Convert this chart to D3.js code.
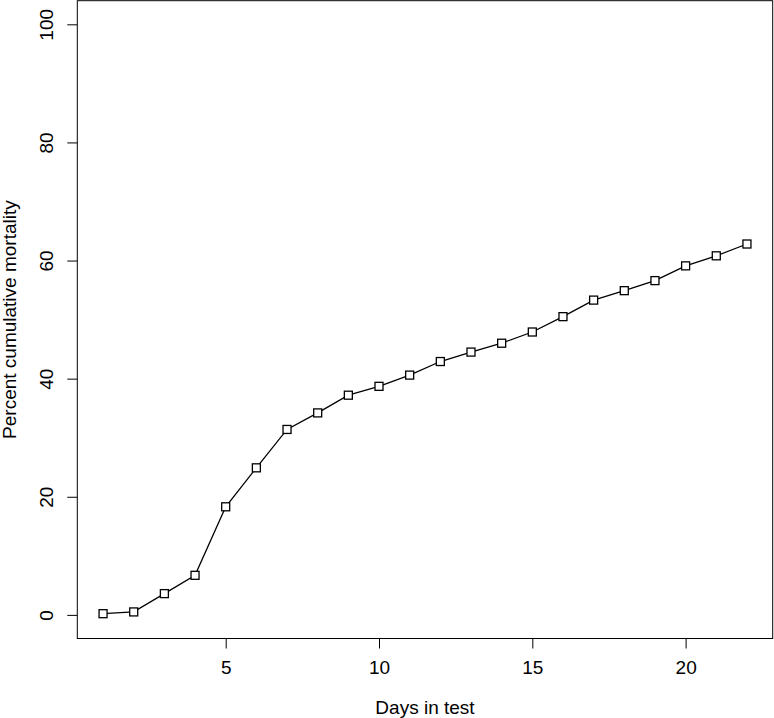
<!DOCTYPE html>
<html>
<head>
<meta charset="utf-8">
<script src="https://cdn.jsdelivr.net/npm/d3@7"></script>
<style>
  body { margin: 0; background: #fff; }
  svg { display: block; }
  text { font-family: "Liberation Sans", Arial, Helvetica, sans-serif; fill: #000; }
</style>
</head>
<body>
<svg id="chart" width="774" height="718"></svg>
<script>
const days = [1,2,3,4,5,6,7,8,9,10,11,12,13,14,15,16,17,18,19,20,21,22];
const mortality = [0.2,0.5,3.6,6.7,18.3,24.9,31.4,34.2,37.2,38.7,40.6,42.9,44.5,46.0,47.9,50.5,53.3,54.9,56.6,59.1,60.8,62.8];
const xTicks = [5,10,15,20];
const yTicks = [0,20,40,60,80,100];
const xTitle = "Days in test";
const yTitle = "Percent cumulative mortality";

(function () {
const svg = d3.select("#chart");
const pL = 77.3, pR = 772.7, pT = 0.7, pB = 638.5;
const fs = "19px";

const x = d3.scaleLinear().domain([0.16, 22.84]).range([pL, pR]);
const y = d3.scaleLinear().domain([-4, 104]).range([pB, pT]);

// box
svg.append("rect")
  .attr("x", pL).attr("y", pT)
  .attr("width", pR - pL).attr("height", pB - pT)
  .attr("fill", "none").attr("stroke", "#000").attr("stroke-width", 1);

// x axis
const xAxis = d3.axisBottom(x).tickValues(xTicks).tickSize(10).tickPadding(12).tickSizeOuter(0);
const gx = svg.append("g").attr("transform", `translate(0,${pB})`).call(xAxis);
gx.select(".domain").remove();
gx.selectAll("line").attr("stroke", "#000");
gx.selectAll("text")
  .style("font-size", fs)
  .attr("y", 28.5).attr("dy", null)
  .attr("dominant-baseline", "central");

// y axis
const yAxis = d3.axisLeft(y).tickValues(yTicks).tickSize(10).tickSizeOuter(0);
const gy = svg.append("g").attr("transform", `translate(${pL},0)`).call(yAxis);
gy.select(".domain").remove();
gy.selectAll("line").attr("stroke", "#000");
gy.selectAll("text")
  .style("font-size", fs)
  .attr("x", null).attr("dy", null)
  .attr("text-anchor", "middle")
  .attr("dominant-baseline", "central")
  .attr("transform", "translate(-30.6,0) rotate(-90)");
gy.attr("font-family", null);
gx.attr("font-family", null);

// titles
svg.append("text")
  .attr("x", (pL + pR) / 2).attr("y", 707)
  .attr("text-anchor", "middle").attr("dominant-baseline", "central")
  .style("font-size", fs).text(xTitle);
svg.append("text")
  .attr("transform", `translate(9,${(pT + pB) / 2}) rotate(-90)`)
  .attr("text-anchor", "middle").attr("dominant-baseline", "central")
  .style("font-size", fs).text(yTitle);

// line
const pts = days.map((d, i) => [d, mortality[i]]);
svg.append("path")
  .datum(pts)
  .attr("fill", "none").attr("stroke", "#000").attr("stroke-width", 1.3)
  .attr("d", d3.line().x(d => x(d[0])).y(d => y(d[1])));

// points: open squares
const s = 8;
svg.selectAll("rect.pt").data(pts).enter().append("rect")
  .attr("class", "pt")
  .attr("x", d => x(d[0]) - s / 2).attr("y", d => y(d[1]) - s / 2)
  .attr("width", s).attr("height", s)
  .attr("fill", "#fff").attr("stroke", "#000").attr("stroke-width", 1.3);
})();
</script>
</body>
</html>
